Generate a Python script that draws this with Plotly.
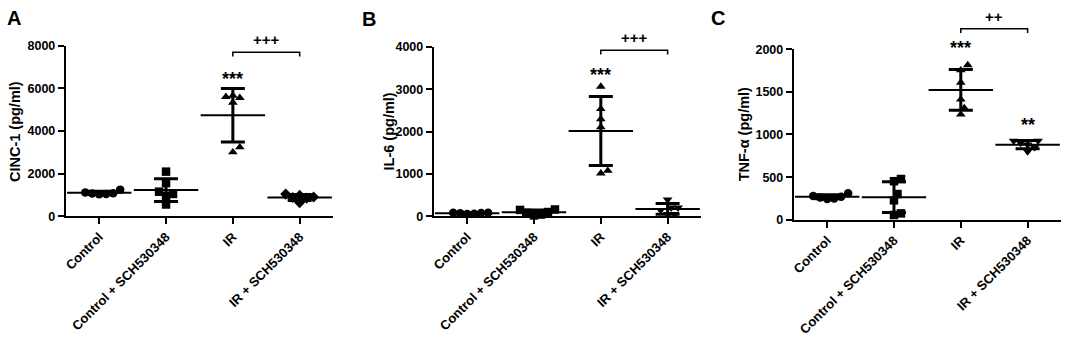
import numpy as np
import plotly.graph_objects as go

# ---------------- data ----------------
categories = ["Control", "Control + SCH530348", "IR", "IR + SCH530348"]

cinc1_control = [1120, 1080, 1030, 1070, 1040, 1250]
cinc1_control_sch = [2095, 1557, 1153, 1047, 957, 553]
cinc1_ir = [5563, 5666, 5608, 5339, 3006, 3244]
cinc1_ir_sch = [900, 980, 850, 640, 880, 1040]

il6_control = [70, 85, 60, 75, 55, 80]
il6_control_sch = [150, 160, 40, 100, 80, 20]
il6_ir = [3061, 2533, 2294, 2105, 1015, 1076]
il6_ir_sch = [390, 203, 143, 203, 52, 52]

tnf_control = [260, 280, 250, 270, 245, 310]
tnf_control_sch = [452, 478, 302, 228, 56, 75]
tnf_ir = [1813, 1754, 1608, 1410, 1310, 1235]
tnf_ir_sch = [925, 925, 900, 880, 800, 850]

cinc1_ticks = [0, 2000, 4000, 6000, 8000]
il6_ticks = [0, 1000, 2000, 3000, 4000]
tnf_ticks = [0, 500, 1000, 1500, 2000]

cinc1_stars = ["", "", "***", ""]
il6_stars = ["", "", "***", ""]
tnf_stars = ["", "", "***", "**"]

cinc1_bracket = "+++"
il6_bracket = "+++"
tnf_bracket = "++"

# ---------------- layout config ----------------
W, H = 1065, 337
FONT = "Liberation Sans, Arial, sans-serif"

panels = [
    dict(letter="A", title="CINC-1 (pg/ml)",
         groups=[cinc1_control, cinc1_control_sch, cinc1_ir, cinc1_ir_sch],
         ticks=cinc1_ticks, stars=cinc1_stars, bracket=cinc1_bracket,
         symbols=["circle", "square", "triangle-up", "diamond"],
         xpx=(63, 331), ypx=(40.7, 219), letter_xy=(11, 12), title_x=12,
         star_off=[10, 10, 10, 10]),
    dict(letter="B", title="IL-6 (pg/ml)",
         groups=[il6_control, il6_control_sch, il6_ir, il6_ir_sch],
         ticks=il6_ticks, stars=il6_stars, bracket=il6_bracket,
         symbols=["circle", "square", "triangle-up", "triangle-down"],
         xpx=(432, 700), ypx=(41.7, 219), letter_xy=(367, 13), title_x=387,
         star_off=[12, 12, 12, 12]),
    dict(letter="C", title="TNF-α (pg/ml)",
         groups=[tnf_control, tnf_control_sch, tnf_ir, tnf_ir_sch],
         ticks=tnf_ticks, stars=tnf_stars, bracket=tnf_bracket,
         symbols=["circle", "square", "triangle-up", "triangle-down"],
         xpx=(793, 1061), ypx=(44.1, 222.7), letter_xy=(717, 12), title_x=744,
         star_off=[18, 18, 18, 16.5]),
]

MARKER_PX = 7.0


def swarm_offsets(vals, ppu, cat_px, d=MARKER_PX):
    """Simple deterministic beeswarm: returns x offsets in category units."""
    order = np.argsort(vals)
    placed = []
    offs = [0.0] * len(vals)
    step = d / 2.0
    for i in order:
        y = vals[i] * ppu
        chosen = 0.0
        found = False
        for k in range(0, 40):
            cands = [0.0] if k == 0 else [k * step, -k * step]
            for c in cands:
                if all((c - px) ** 2 + (y - py) ** 2 >= d ** 2 for px, py in placed):
                    chosen = c
                    found = True
                    break
            if found:
                break
        placed.append((chosen, y))
        offs[i] = chosen / cat_px
    return offs


fig = go.Figure()
layout = dict(
    width=W, height=H, margin=dict(l=0, r=0, t=0, b=0),
    plot_bgcolor="white", paper_bgcolor="white", showlegend=False,
    font=dict(family=FONT, color="black"),
)
shapes, annotations = [], []

for pi, p in enumerate(panels):
    sfx = "" if pi == 0 else str(pi + 1)
    xa, ya = "x" + sfx, "y" + sfx
    x0p, x1p = p["xpx"]
    ytp, ybp = p["ypx"]
    top = p["ticks"][-1]
    ppu = (ybp - ytp) / top
    cat_px = (x1p - x0p) / 4.0

    def ypx(v):
        return ybp - v * ppu

    def paper_x(px):
        return px / W

    def paper_y(px):
        return 1 - px / H

    def cat_x_px(c):
        return x0p + (c + 0.5) * cat_px

    means, sds = [], []
    for gi, vals in enumerate(p["groups"]):
        offs = swarm_offsets(vals, ppu, cat_px)
        fig.add_trace(go.Scatter(
            x=[gi + o for o in offs], y=vals, mode="markers",
            marker=dict(symbol=p["symbols"][gi], size=8.5, color="black",
                        line=dict(width=0)),
            cliponaxis=False, xaxis=xa, yaxis=ya, hoverinfo="skip"))
        means.append(float(np.mean(vals)))
        sds.append(float(np.std(vals, ddof=1)))

    fig.add_trace(go.Scatter(
        x=list(range(4)), y=means, mode="markers",
        marker=dict(symbol="line-ew", size=46, color="black",
                    line=dict(width=2, color="black")),
        error_y=dict(type="data", array=sds, visible=True, width=12,
                     thickness=3, color="black"),
        cliponaxis=False, xaxis=xa, yaxis=ya, hoverinfo="skip"))

    tickfont = dict(family=FONT, size=12.5, color="black", weight="bold")
    catfont = dict(family=FONT, size=13, color="black", weight="bold")
    layout["xaxis" + sfx] = dict(
        domain=[x0p / W, x1p / W], range=[-0.5, 3.5], anchor=ya,
        tickvals=list(range(4)), ticktext=categories, tickangle=-45,
        ticks="outside", ticklen=6, tickwidth=1.5, tickcolor="black",
        showline=True, linewidth=2, linecolor="black",
        showgrid=False, zeroline=False, tickfont=catfont, fixedrange=True)
    layout["yaxis" + sfx] = dict(
        domain=[1 - ybp / H, 1 - ytp / H], range=[0, top], anchor=xa,
        tickvals=p["ticks"], ticktext=[str(t) for t in p["ticks"]],
        ticks="outside", ticklen=6, tickwidth=1.5, tickcolor="black",
        showline=True, linewidth=2, linecolor="black",
        showgrid=False, zeroline=False, tickfont=tickfont, fixedrange=True)

    tops = [max(max(v), m + s) for v, m, s in zip(p["groups"], means, sds)]

    # significance stars
    for gi, st in enumerate(p["stars"]):
        if st:
            yy = ypx(tops[gi]) - p["star_off"][gi]
            annotations.append(dict(
                x=paper_x(cat_x_px(gi)), y=paper_y(yy), xref="paper", yref="paper",
                text=st, showarrow=False, xanchor="center", yanchor="middle",
                font=dict(family=FONT, size=18, color="black", weight="bold")))

    # bracket between IR and IR + SCH
    yb = ypx(max(tops[2], tops[3])) - 38
    xa_px, xb_px = cat_x_px(2), cat_x_px(3)
    shapes.append(dict(
        type="path", xref="paper", yref="paper",
        path="M {a},{y1} L {a},{y0} L {b},{y0} L {b},{y1}".format(
            a=paper_x(xa_px), b=paper_x(xb_px),
            y0=paper_y(yb), y1=paper_y(yb + 4.5)),
        line=dict(color="black", width=1.5)))
    annotations.append(dict(
        x=paper_x((xa_px + xb_px) / 2), y=paper_y(yb - 2), xref="paper", yref="paper",
        text=p["bracket"], showarrow=False, xanchor="center", yanchor="bottom",
        font=dict(family=FONT, size=15, color="black", weight="bold")))

    # y-axis title
    annotations.append(dict(
        x=paper_x(p["title_x"]), y=paper_y((ytp + ybp) / 2), xref="paper", yref="paper",
        text=p["title"], textangle=-90, showarrow=False,
        xanchor="center", yanchor="middle",
        font=dict(family=FONT, size=14.5, color="black", weight="bold")))

    # panel letter
    lx, ly = p["letter_xy"]
    annotations.append(dict(
        x=paper_x(lx), y=paper_y(ly), xref="paper", yref="paper",
        text=p["letter"], showarrow=False, xanchor="center", yanchor="middle",
        font=dict(family=FONT, size=20, color="black", weight="bold")))

layout["shapes"] = shapes
layout["annotations"] = annotations
fig.update_layout(**layout)
fig.write_html("out.html", config={"displayModeBar": False},
               post_script="document.body.style.margin='0px';"
                           "document.body.style.overflow='hidden';")
